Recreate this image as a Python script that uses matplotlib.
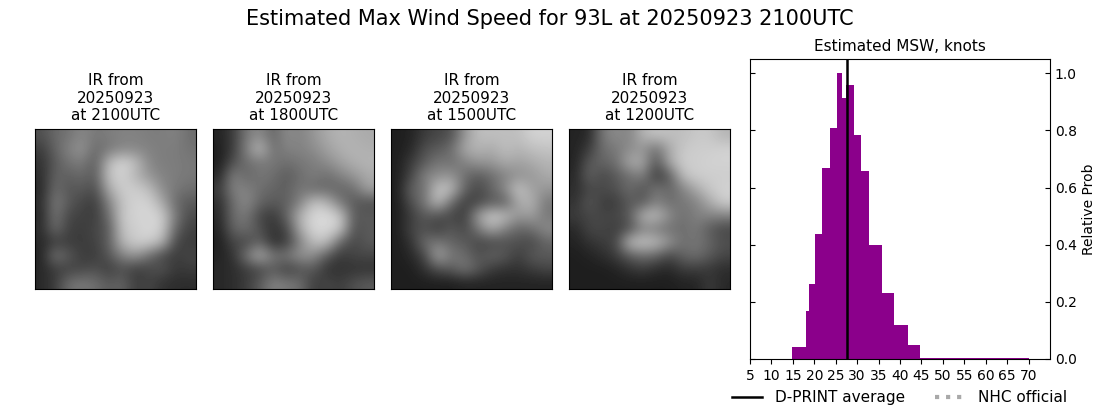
import matplotlib
matplotlib.use("Agg")
import matplotlib.pyplot as plt
import numpy as np

# IR brightness, coarse grid (0-255)
ir_2100 = [
    [80,105,115,135,120,125,130,130,125,125,130,110],
    [60,100,130,150,105,120,135,135,130,125,125,115],
    [50,90,115,125,90,185,215,190,135,125,125,120],
    [45,100,95,105,90,195,210,180,150,130,125,120],
    [40,110,85,90,75,170,205,205,190,140,120,110],
    [45,125,90,70,60,130,195,210,210,170,105,90],
    [40,120,70,65,60,110,200,210,215,205,120,75],
    [45,110,65,60,70,90,195,205,215,205,100,65],
    [40,60,60,60,65,95,180,205,205,180,70,60],
    [35,120,90,60,60,85,130,150,110,70,60,70],
    [40,60,65,70,80,60,80,60,70,85,55,60],
    [40,60,110,120,110,90,100,60,70,50,45,45],
]
ir_1800 = [
    [35,60,120,140,100,140,130,150,170,180,175,170],
    [30,60,130,190,110,130,130,140,160,175,180,175],
    [30,80,110,120,120,110,120,125,140,160,175,180],
    [40,130,100,120,110,90,110,125,110,130,150,170],
    [60,130,130,110,100,95,120,105,105,100,110,160],
    [45,110,140,100,90,95,130,195,180,120,90,80],
    [40,110,120,70,55,100,180,215,220,200,90,90],
    [35,100,110,80,50,70,170,215,215,200,80,90],
    [30,70,70,100,45,60,130,190,190,100,70,90],
    [35,50,120,180,120,120,150,140,90,55,70,70],
    [40,45,60,70,90,60,80,90,50,50,50,50],
    [40,45,60,90,130,120,110,60,70,60,80,90],
]
ir_1500 = [
    [30,35,60,70,80,150,190,190,190,190,210,210],
    [30,40,80,90,110,170,180,170,190,180,190,195],
    [30,60,90,120,110,130,150,150,170,160,170,180],
    [30,70,130,140,150,110,90,110,130,145,150,170],
    [30,100,110,200,190,100,70,100,140,200,160,150],
    [30,80,120,190,110,60,70,90,90,170,180,120],
    [30,60,90,80,70,60,160,205,190,150,160,120],
    [30,70,80,60,90,70,120,170,130,100,110,140],
    [30,50,110,120,100,90,70,70,80,80,70,100],
    [30,40,70,170,120,110,80,100,90,60,90,90],
    [30,30,50,80,90,120,90,60,50,50,60,70],
    [30,30,30,30,30,35,35,35,35,35,35,35],
]
ir_1200 = [
    [35,40,120,140,130,180,195,190,190,200,200,180],
    [35,60,110,120,140,150,110,170,200,205,205,210],
    [35,90,100,110,170,170,80,170,205,205,210,210],
    [40,100,70,90,110,130,55,90,190,205,205,205],
    [45,70,75,80,110,80,120,100,130,170,200,210],
    [50,90,60,60,90,90,130,110,120,130,170,205],
    [60,70,70,70,90,180,190,140,110,130,130,130],
    [40,70,70,60,80,130,120,110,110,120,90,70],
    [35,50,60,70,190,200,190,150,110,120,100,80],
    [30,35,45,60,90,110,100,70,100,110,90,70],
    [30,30,30,35,50,60,45,40,60,60,55,45],
    [30,30,30,30,30,30,30,30,35,35,60,40],
]
ir_images = [ir_2100, ir_1800, ir_1500, ir_1200]
ir_times = ["2100UTC", "1800UTC", "1500UTC", "1200UTC"]

# histogram of MSW
bin_edges = [14.9,18,18.65,20.05,21.7,23.55,25.2,26.4,27.5,29.15,30.8,32.65,35.9,38.7,41.75,44.55,70]
probs = [0.041,0.168,0.263,0.438,0.669,0.809,1.0,0.914,0.96,0.785,0.658,0.40,0.231,0.119,0.049,0.004]
dprint_avg = 27.6

fig = plt.figure(figsize=(11, 4.09), dpi=100)
fig.suptitle("Estimated Max Wind Speed for 93L at 20250923 2100UTC", fontsize=15, y=0.977)

lefts = [35, 213, 391, 569]
for left, img, t in zip(lefts, ir_images, ir_times):
    ax = fig.add_axes([left/1100, 1-289/409, 161/1100, 160/409])
    ax.imshow(np.array(img), cmap="gray", vmin=0, vmax=255, interpolation="bicubic", aspect="auto")
    ax.set_xticks([])
    ax.set_yticks([])
    ax.set_title("IR from\n20250923\nat " + t, fontsize=11, pad=6.5)

ax = fig.add_axes([750/1100, 1-359/409, 300/1100, 300/409])
edges = np.array(bin_edges)
ax.bar(edges[:-1], probs, width=np.diff(edges), align="edge", color="darkmagenta")
line, = ax.plot([dprint_avg, dprint_avg], [0, 1.05], color="black", lw=1.8, label="D-PRINT average")
nhc, = ax.plot([], [], color="darkgray", lw=3, linestyle=":", label="NHC official")
ax.set_xlim(5, 75)
ax.set_ylim(0, 1.05)
ax.set_xticks(np.arange(5, 75, 5))
ax.set_yticks([0, 0.2, 0.4, 0.6, 0.8, 1.0])
ax.tick_params(axis="y", direction="in", left=True, right=True, labelleft=False, labelright=True)
ax.tick_params(labelsize=10)
ax.yaxis.set_label_position("right")
ax.set_ylabel("Relative Prob", fontsize=10)
ax.set_title("Estimated MSW, knots", fontsize=11)

fig.legend(handles=[line, nhc], loc="lower left", bbox_to_anchor=(718/1100, -0.025),
           ncol=2, frameon=False, fontsize=11, columnspacing=2.0)

fig.savefig("out.png", dpi=100)
